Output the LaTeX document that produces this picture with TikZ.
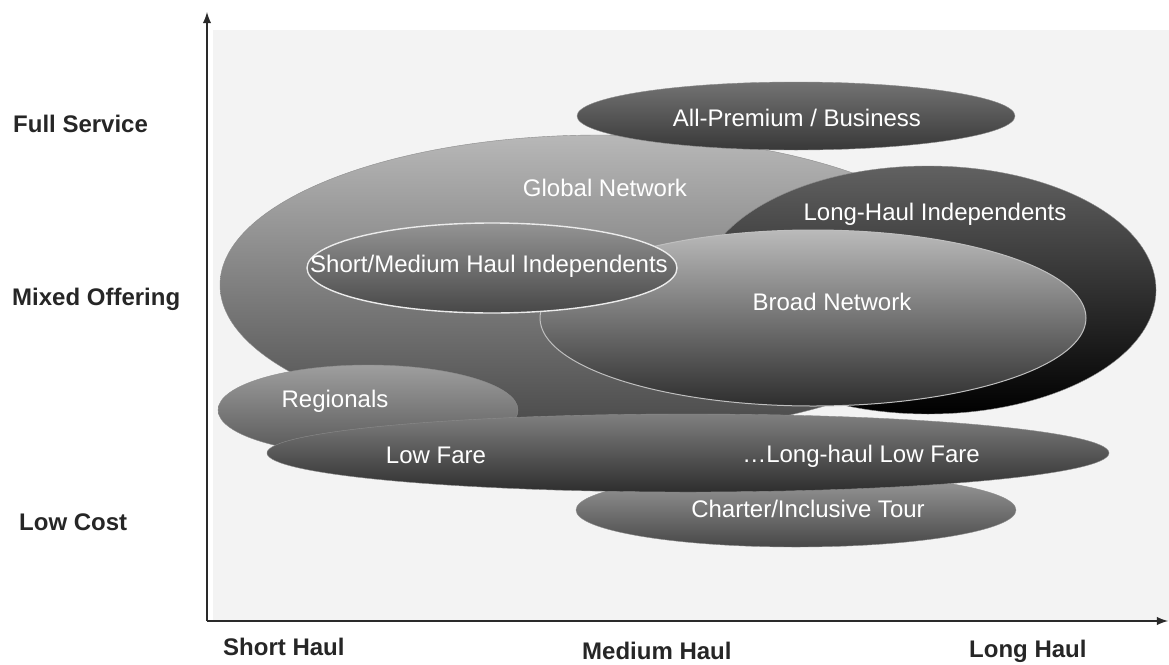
\documentclass[tikz,border=0pt]{standalone}
\usepackage{fontspec}
\setmainfont{Liberation Sans}
\usepackage{tikz}
\usetikzlibrary{arrows}
\definecolor{backg}{HTML}{F3F3F3}
\definecolor{axisc}{HTML}{2A2A2A}
\tikzstyle{every blob}=[draw=black!45, line width=0.4pt]
\tikzstyle{blob text}=[text=white, font=\fontsize{24}{28}\selectfont, anchor=base, inner sep=0pt]
\tikzstyle{axis text}=[text=black!85, font=\fontsize{24}{28}\selectfont\bfseries, anchor=base west, inner sep=0pt]

\begin{document}
\begin{tikzpicture}[x=1pt,y=-1pt]
\useasboundingbox (0,0) rectangle (1169,664);
\fill[backg] (213,30) rectangle (1169,621);
\shade[every blob, top color=black!28, bottom color=black!72] (600,285) ellipse [x radius=380, y radius=150];
\shade[every blob, top color=black!55, bottom color=black!78] (796,116) ellipse [x radius=219, y radius=34];
\shade[every blob, top color=black!62, bottom color=black!100] (928,290) ellipse [x radius=228, y radius=124];
\shade[draw=black!25, line width=1pt, top color=black!27, bottom color=black!82] (813,318) ellipse [x radius=273, y radius=88];
\shade[draw=white!92!black, line width=1.4pt, top color=black!42, bottom color=black!72] (492,268) ellipse [x radius=185, y radius=45];
\shade[every blob, top color=black!38, bottom color=black!66] (368,410) ellipse [x radius=150, y radius=45];
\shade[every blob, top color=black!38, bottom color=black!72] (796,510) ellipse [x radius=220, y radius=37];
\shade[every blob, top color=black!50, bottom color=black!82] (688,453) ellipse [x radius=421, y radius=39];
% axes
\coordinate (origin) at (207,621);
\coordinate (ytip) at (207,12);
\coordinate (xtip) at (1168,621);
\draw[axisc, line width=2.8pt, -latex] (origin) -- (ytip);
\draw[axisc, line width=2.8pt, -latex] (origin) -- (xtip);
\node[blob text] (glob) at (605,196) {Global Network};
\node[blob text] (prem) at (797,126) {All-Premium / Business};
\node[blob text] (lhind) at (935,220) {Long-Haul Independents};
\node[blob text] (broad) at (832,310) {Broad Network};
\node[blob text] (smind) at (489,272) {Short/Medium Haul Independents};
\node[blob text] (regio) at (335,407) {Regionals};
\node[blob text] (lowf) at (436,463) {Low Fare};
\node[blob text] (lhlowf) at (861,462) {\dots Long-haul Low Fare};
\node[blob text] (chart) at (808,517) {Charter/Inclusive Tour};
\node[axis text] (full) at (13,132) {Full Service};
\node[axis text] (mixed) at (12,305) {Mixed Offering};
\node[axis text] (lowc) at (19,530) {Low Cost};
\node[axis text] (short) at (223,655) {Short Haul};
\node[axis text] (medium) at (582,659) {Medium Haul};
\node[axis text] (long) at (969,657) {Long Haul};
\end{tikzpicture}
\end{document}
